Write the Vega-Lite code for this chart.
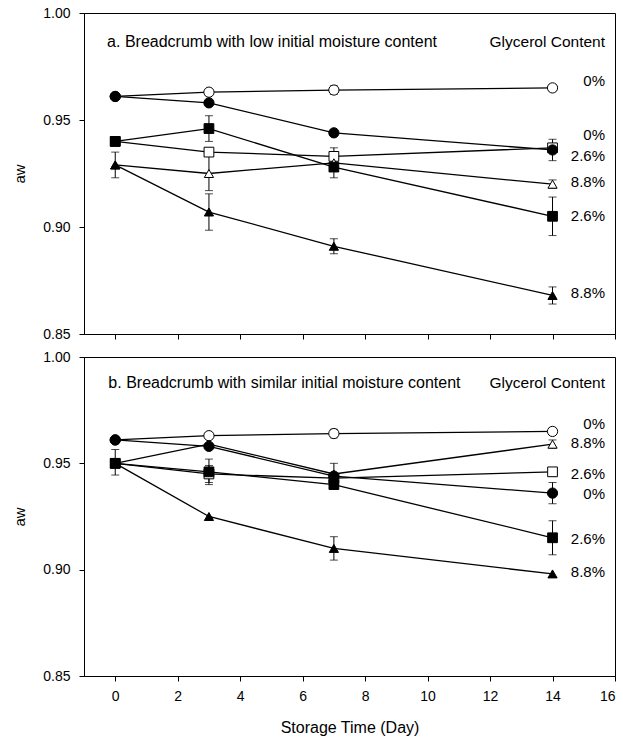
{
  "$schema": "https://vega.github.io/schema/vega-lite/v6.json",
  "background": "white",
  "padding": {"left": 12, "top": 5, "right": 9, "bottom": 0},
  "spacing": 7,
  "config": {
    "font": "Liberation Sans",
    "view": {"stroke": "black", "strokeWidth": 1},
    "axis": {
      "grid": false, "domainColor": "black", "tickColor": "black",
      "labelColor": "black", "titleColor": "black", "labelFontSize": 14,
      "titleFontWeight": "normal", "labelFont": "Liberation Sans", "titleFont": "Liberation Sans",
      "tickSize": 5, "labelPadding": 9
    }
  },
  "datasets": {
    "pts": [
      {"panel": "a", "series": "a0o", "glycerol": "0%", "set": "A", "day": 0, "aw": 0.961},
      {"panel": "a", "series": "a0o", "glycerol": "0%", "set": "A", "day": 3, "aw": 0.963, "lo": 0.9615, "hi": 0.9645},
      {"panel": "a", "series": "a0o", "glycerol": "0%", "set": "A", "day": 7, "aw": 0.964, "lo": 0.962, "hi": 0.966},
      {"panel": "a", "series": "a0o", "glycerol": "0%", "set": "A", "day": 14, "aw": 0.965, "lo": 0.9635, "hi": 0.9665},
      {"panel": "a", "series": "a26o", "glycerol": "2.6%", "set": "A", "day": 0, "aw": 0.940},
      {"panel": "a", "series": "a26o", "glycerol": "2.6%", "set": "A", "day": 3, "aw": 0.935, "lo": 0.9335, "hi": 0.9365},
      {"panel": "a", "series": "a26o", "glycerol": "2.6%", "set": "A", "day": 7, "aw": 0.933, "lo": 0.929, "hi": 0.937},
      {"panel": "a", "series": "a26o", "glycerol": "2.6%", "set": "A", "day": 14, "aw": 0.937, "lo": 0.935, "hi": 0.939},
      {"panel": "a", "series": "a88o", "glycerol": "8.8%", "set": "A", "day": 0, "aw": 0.929},
      {"panel": "a", "series": "a88o", "glycerol": "8.8%", "set": "A", "day": 3, "aw": 0.925, "lo": 0.917, "hi": 0.933},
      {"panel": "a", "series": "a88o", "glycerol": "8.8%", "set": "A", "day": 7, "aw": 0.930},
      {"panel": "a", "series": "a88o", "glycerol": "8.8%", "set": "A", "day": 14, "aw": 0.920, "lo": 0.918, "hi": 0.922},
      {"panel": "a", "series": "a0f", "glycerol": "0%", "set": "B", "day": 0, "aw": 0.961},
      {"panel": "a", "series": "a0f", "glycerol": "0%", "set": "B", "day": 3, "aw": 0.958},
      {"panel": "a", "series": "a0f", "glycerol": "0%", "set": "B", "day": 7, "aw": 0.944},
      {"panel": "a", "series": "a0f", "glycerol": "0%", "set": "B", "day": 14, "aw": 0.936, "lo": 0.931, "hi": 0.941},
      {"panel": "a", "series": "a26f", "glycerol": "2.6%", "set": "B", "day": 0, "aw": 0.940},
      {"panel": "a", "series": "a26f", "glycerol": "2.6%", "set": "B", "day": 3, "aw": 0.946, "lo": 0.940, "hi": 0.952},
      {"panel": "a", "series": "a26f", "glycerol": "2.6%", "set": "B", "day": 7, "aw": 0.928, "lo": 0.923, "hi": 0.933},
      {"panel": "a", "series": "a26f", "glycerol": "2.6%", "set": "B", "day": 14, "aw": 0.905, "lo": 0.896, "hi": 0.914},
      {"panel": "a", "series": "a88f", "glycerol": "8.8%", "set": "B", "day": 0, "aw": 0.929, "lo": 0.923, "hi": 0.935},
      {"panel": "a", "series": "a88f", "glycerol": "8.8%", "set": "B", "day": 3, "aw": 0.907, "lo": 0.8985, "hi": 0.9155},
      {"panel": "a", "series": "a88f", "glycerol": "8.8%", "set": "B", "day": 7, "aw": 0.891, "lo": 0.8875, "hi": 0.8945},
      {"panel": "a", "series": "a88f", "glycerol": "8.8%", "set": "B", "day": 14, "aw": 0.868, "lo": 0.864, "hi": 0.872},

      {"panel": "b", "series": "b0o", "glycerol": "0%", "set": "A", "day": 0, "aw": 0.961},
      {"panel": "b", "series": "b0o", "glycerol": "0%", "set": "A", "day": 3, "aw": 0.963, "lo": 0.9615, "hi": 0.9645},
      {"panel": "b", "series": "b0o", "glycerol": "0%", "set": "A", "day": 7, "aw": 0.964, "lo": 0.962, "hi": 0.966},
      {"panel": "b", "series": "b0o", "glycerol": "0%", "set": "A", "day": 14, "aw": 0.965, "lo": 0.9635, "hi": 0.9665},
      {"panel": "b", "series": "b26o", "glycerol": "2.6%", "set": "A", "day": 0, "aw": 0.950},
      {"panel": "b", "series": "b26o", "glycerol": "2.6%", "set": "A", "day": 3, "aw": 0.945, "lo": 0.941, "hi": 0.949},
      {"panel": "b", "series": "b26o", "glycerol": "2.6%", "set": "A", "day": 7, "aw": 0.943},
      {"panel": "b", "series": "b26o", "glycerol": "2.6%", "set": "A", "day": 14, "aw": 0.946, "lo": 0.944, "hi": 0.948},
      {"panel": "b", "series": "b88o", "glycerol": "8.8%", "set": "A", "day": 0, "aw": 0.950},
      {"panel": "b", "series": "b88o", "glycerol": "8.8%", "set": "A", "day": 3, "aw": 0.959},
      {"panel": "b", "series": "b88o", "glycerol": "8.8%", "set": "A", "day": 7, "aw": 0.945, "lo": 0.940, "hi": 0.950},
      {"panel": "b", "series": "b88o", "glycerol": "8.8%", "set": "A", "day": 14, "aw": 0.959, "lo": 0.957, "hi": 0.961},
      {"panel": "b", "series": "b0f", "glycerol": "0%", "set": "B", "day": 0, "aw": 0.961},
      {"panel": "b", "series": "b0f", "glycerol": "0%", "set": "B", "day": 3, "aw": 0.958},
      {"panel": "b", "series": "b0f", "glycerol": "0%", "set": "B", "day": 7, "aw": 0.944},
      {"panel": "b", "series": "b0f", "glycerol": "0%", "set": "B", "day": 14, "aw": 0.936, "lo": 0.931, "hi": 0.941},
      {"panel": "b", "series": "b26f", "glycerol": "2.6%", "set": "B", "day": 0, "aw": 0.950, "lo": 0.9445, "hi": 0.9565},
      {"panel": "b", "series": "b26f", "glycerol": "2.6%", "set": "B", "day": 3, "aw": 0.946, "lo": 0.940, "hi": 0.952},
      {"panel": "b", "series": "b26f", "glycerol": "2.6%", "set": "B", "day": 7, "aw": 0.940},
      {"panel": "b", "series": "b26f", "glycerol": "2.6%", "set": "B", "day": 14, "aw": 0.915, "lo": 0.907, "hi": 0.923},
      {"panel": "b", "series": "b88f", "glycerol": "8.8%", "set": "B", "day": 0, "aw": 0.950},
      {"panel": "b", "series": "b88f", "glycerol": "8.8%", "set": "B", "day": 3, "aw": 0.925},
      {"panel": "b", "series": "b88f", "glycerol": "8.8%", "set": "B", "day": 7, "aw": 0.910, "lo": 0.9045, "hi": 0.9155},
      {"panel": "b", "series": "b88f", "glycerol": "8.8%", "set": "B", "day": 14, "aw": 0.898}
    ],
    "lab": [
      {"panel": "a", "kind": "title", "day": -0.26, "aw": 0.9864, "text": "a. Breadcrumb with low initial moisture content"},
      {"panel": "a", "kind": "head", "day": 15.68, "aw": 0.9864, "text": "Glycerol Content"},
      {"panel": "a", "kind": "right", "day": 15.68, "aw": 0.968, "text": "0%"},
      {"panel": "a", "kind": "right", "day": 15.68, "aw": 0.943, "text": "0%"},
      {"panel": "a", "kind": "right", "day": 15.68, "aw": 0.933, "text": "2.6%"},
      {"panel": "a", "kind": "right", "day": 15.68, "aw": 0.921, "text": "8.8%"},
      {"panel": "a", "kind": "right", "day": 15.68, "aw": 0.905, "text": "2.6%"},
      {"panel": "a", "kind": "right", "day": 15.68, "aw": 0.869, "text": "8.8%"},
      {"panel": "b", "kind": "title", "day": -0.22, "aw": 0.9878, "text": "b. Breadcrumb with similar initial moisture content"},
      {"panel": "b", "kind": "head", "day": 15.68, "aw": 0.9878, "text": "Glycerol Content"},
      {"panel": "b", "kind": "right", "day": 15.68, "aw": 0.9685, "text": "0%"},
      {"panel": "b", "kind": "right", "day": 15.68, "aw": 0.9596, "text": "8.8%"},
      {"panel": "b", "kind": "right", "day": 15.68, "aw": 0.945, "text": "2.6%"},
      {"panel": "b", "kind": "right", "day": 15.68, "aw": 0.9356, "text": "0%"},
      {"panel": "b", "kind": "right", "day": 15.68, "aw": 0.9144, "text": "2.6%"},
      {"panel": "b", "kind": "right", "day": 15.68, "aw": 0.899, "text": "8.8%"}
    ]
  },
  "vconcat": [
    {
      "width": 531, "height": 321,
      "encoding": {
        "x": {"field": "day", "type": "quantitative", "scale": {"domain": [-1, 16], "nice": false, "zero": false},
              "axis": {"values": [0, 2, 4, 6, 8, 10, 12, 14, 16], "labels": false, "title": null}},
        "y": {"field": "aw", "type": "quantitative", "scale": {"domain": [0.85, 1.0], "nice": false, "zero": false},
              "axis": {"values": [0.85, 0.9, 0.95, 1.0], "format": ".2f", "title": "aw", "titleFontSize": 15, "titlePadding": 15}}
      },
      "layer": [
        {"data": {"name": "pts"}, "transform": [{"filter": "datum.panel == 'a'"}],
         "mark": {"type": "line", "color": "black", "strokeWidth": 1.3},
         "encoding": {"detail": {"field": "series"}, "order": {"field": "day"}}},
        {"data": {"name": "pts"}, "transform": [{"filter": "datum.panel == 'a' && isValid(datum.lo)"}],
         "mark": {"type": "rule", "color": "black", "strokeWidth": 1},
         "encoding": {"y": {"field": "lo", "type": "quantitative", "title": "aw"}, "y2": {"field": "hi"}}},
        {"data": {"name": "pts"}, "transform": [{"filter": "datum.panel == 'a' && isValid(datum.lo)"}],
         "mark": {"type": "tick", "orient": "horizontal", "color": "black", "size": 8, "thickness": 1},
         "encoding": {"y": {"field": "lo", "type": "quantitative", "title": "aw"}}},
        {"data": {"name": "pts"}, "transform": [{"filter": "datum.panel == 'a' && isValid(datum.hi)"}],
         "mark": {"type": "tick", "orient": "horizontal", "color": "black", "size": 8, "thickness": 1},
         "encoding": {"y": {"field": "hi", "type": "quantitative", "title": "aw"}}},
        {"data": {"name": "pts"}, "transform": [{"filter": "datum.panel == 'a'"}],
         "mark": {"type": "point", "filled": true, "stroke": "black", "strokeWidth": 1, "opacity": 1},
         "encoding": {
           "shape": {"field": "glycerol", "type": "nominal", "scale": {"domain": ["0%", "2.6%", "8.8%"], "range": ["circle", "square", "triangle-up"]}, "legend": null},
           "size": {"field": "glycerol", "type": "nominal", "scale": {"domain": ["0%", "2.6%", "8.8%"], "range": [105, 85, 100]}, "legend": null},
           "fill": {"field": "set", "type": "nominal", "scale": {"domain": ["A", "B"], "range": ["white", "black"]}, "legend": null}
         }},
        {"data": {"name": "lab"}, "transform": [{"filter": "datum.panel == 'a' && datum.kind == 'title'"}],
         "mark": {"type": "text", "align": "left", "baseline": "middle", "fontSize": 16, "color": "black"},
         "encoding": {"text": {"field": "text"}}},
        {"data": {"name": "lab"}, "transform": [{"filter": "datum.panel == 'a' && datum.kind == 'head'"}],
         "mark": {"type": "text", "align": "right", "baseline": "middle", "fontSize": 15.5, "color": "black"},
         "encoding": {"text": {"field": "text"}}},
        {"data": {"name": "lab"}, "transform": [{"filter": "datum.panel == 'a' && datum.kind == 'right'"}],
         "mark": {"type": "text", "align": "right", "baseline": "middle", "fontSize": 15, "color": "black"},
         "encoding": {"text": {"field": "text"}}}
      ]
    },
    {
      "width": 531, "height": 319,
      "encoding": {
        "x": {"field": "day", "type": "quantitative", "scale": {"domain": [-1, 16], "nice": false, "zero": false},
              "axis": {"values": [0, 2, 4, 6, 8, 10, 12, 14, 16], "title": "Storage Time (Day)", "titleFontSize": 16, "titlePadding": 16, "labelPadding": 8}},
        "y": {"field": "aw", "type": "quantitative", "scale": {"domain": [0.85, 1.0], "nice": false, "zero": false},
              "axis": {"values": [0.85, 0.9, 0.95, 1.0], "format": ".2f", "title": "aw", "titleFontSize": 15, "titlePadding": 15}}
      },
      "layer": [
        {"data": {"name": "pts"}, "transform": [{"filter": "datum.panel == 'b'"}],
         "mark": {"type": "line", "color": "black", "strokeWidth": 1.3},
         "encoding": {"detail": {"field": "series"}, "order": {"field": "day"}}},
        {"data": {"name": "pts"}, "transform": [{"filter": "datum.panel == 'b' && isValid(datum.lo)"}],
         "mark": {"type": "rule", "color": "black", "strokeWidth": 1},
         "encoding": {"y": {"field": "lo", "type": "quantitative", "title": "aw"}, "y2": {"field": "hi"}}},
        {"data": {"name": "pts"}, "transform": [{"filter": "datum.panel == 'b' && isValid(datum.lo)"}],
         "mark": {"type": "tick", "orient": "horizontal", "color": "black", "size": 8, "thickness": 1},
         "encoding": {"y": {"field": "lo", "type": "quantitative", "title": "aw"}}},
        {"data": {"name": "pts"}, "transform": [{"filter": "datum.panel == 'b' && isValid(datum.hi)"}],
         "mark": {"type": "tick", "orient": "horizontal", "color": "black", "size": 8, "thickness": 1},
         "encoding": {"y": {"field": "hi", "type": "quantitative", "title": "aw"}}},
        {"data": {"name": "pts"}, "transform": [{"filter": "datum.panel == 'b'"}],
         "mark": {"type": "point", "filled": true, "stroke": "black", "strokeWidth": 1, "opacity": 1},
         "encoding": {
           "shape": {"field": "glycerol", "type": "nominal", "scale": {"domain": ["0%", "2.6%", "8.8%"], "range": ["circle", "square", "triangle-up"]}, "legend": null},
           "size": {"field": "glycerol", "type": "nominal", "scale": {"domain": ["0%", "2.6%", "8.8%"], "range": [105, 85, 100]}, "legend": null},
           "fill": {"field": "set", "type": "nominal", "scale": {"domain": ["A", "B"], "range": ["white", "black"]}, "legend": null}
         }},
        {"data": {"name": "lab"}, "transform": [{"filter": "datum.panel == 'b' && datum.kind == 'title'"}],
         "mark": {"type": "text", "align": "left", "baseline": "middle", "fontSize": 16, "color": "black"},
         "encoding": {"text": {"field": "text"}}},
        {"data": {"name": "lab"}, "transform": [{"filter": "datum.panel == 'b' && datum.kind == 'head'"}],
         "mark": {"type": "text", "align": "right", "baseline": "middle", "fontSize": 15.5, "color": "black"},
         "encoding": {"text": {"field": "text"}}},
        {"data": {"name": "lab"}, "transform": [{"filter": "datum.panel == 'b' && datum.kind == 'right'"}],
         "mark": {"type": "text", "align": "right", "baseline": "middle", "fontSize": 15, "color": "black"},
         "encoding": {"text": {"field": "text"}}}
      ]
    }
  ]
}
